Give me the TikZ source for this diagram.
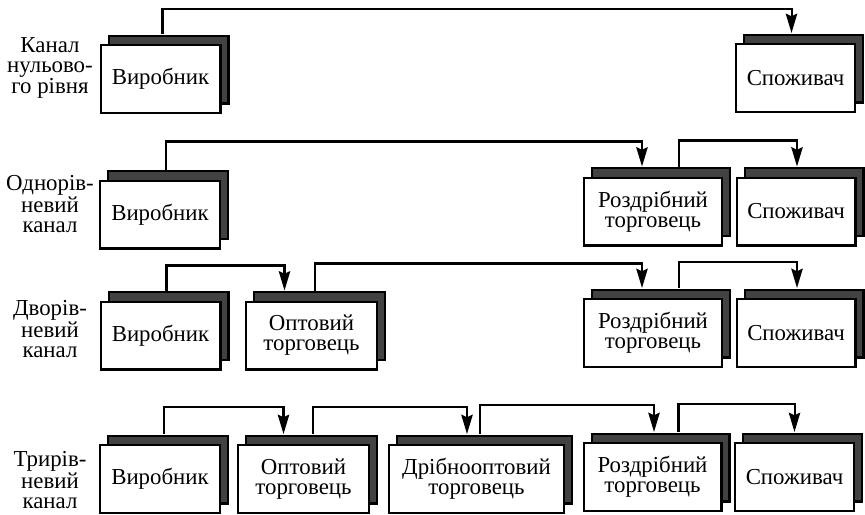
\documentclass[tikz,border=0pt]{standalone}
\usepackage{fontspec}
\setmainfont{Liberation Serif}
\usetikzlibrary{arrows.meta, shadows}
\definecolor{ShadowGray}{RGB}{66, 66, 66}

\begin{document}
\begin{tikzpicture}[x=0.02cm, y=-0.02cm,
    box/.style={draw=black, line width=1.15pt, fill=white, align=center, inner sep=0pt,
      font=\fontsize{13}{11.3}\selectfont, minimum height=1.36cm,
      copy shadow={shadow xshift=0.16cm, shadow yshift=0.19cm, fill=ShadowGray, draw=black, line width=1.15pt}},
    lbl/.style={align=center, font=\fontsize{13}{11.3}\selectfont},
    link/.style={line width=1.15pt, -{Stealth[length=11pt, width=6.5pt, inset=1.5pt]}}]
    \useasboundingbox (0,0) rectangle (865,514);

    % Labels
    \node[lbl] (l1) at (50,68) {Канал\\нульово-\\го рівня};
    \node[lbl] (l2) at (50,204) {Однорів-\\невий\\канал};
    \node[lbl] (l3) at (50,329) {Дворів-\\невий\\канал};
    \node[lbl] (l4) at (50,480) {Трирів-\\невий\\канал};

    % Zero level
    \node[box, minimum width=2.4cm] (p1) at (160.5,79) {Виробник};
    \node[box, minimum width=2.38cm] (c1) at (795.5,78) {Споживач};
    \draw[link] ([shift={(2,-10)}]p1.north) -- ++(0,-25) -| ([shift={(-4,-10)}]c1.north);

    % One level
    \node[box, minimum width=2.4cm] (p2) at (160,214.5) {Виробник};
    \node[box, minimum width=2.76cm] (r2) at (653,211.5) {Роздрібний\\торговець};
    \node[box, minimum width=2.38cm] (c2) at (796,211.5) {Споживач};
    \draw[link] ([shift={(6,-10)}]p2.north) -- ++(0,-28) -| ([shift={(-11,-10)}]r2.north);
    \draw[link] ([shift={(26,-10)}]r2.north) -- ++(0,-26) -| ([shift={(1,-10)}]c2.north);

    % Two levels
    \node[box, minimum width=2.4cm] (p3) at (160.5,335.5) {Виробник};
    \node[box, minimum width=2.62cm] (w3) at (311.5,335.5) {Оптовий\\торговець};
    \node[box, minimum width=2.76cm] (r3) at (653,333) {Роздрібний\\торговець};
    \node[box, minimum width=2.38cm] (c3) at (796,333) {Споживач};
    \draw[link] ([shift={(6,-10)}]p3.north) -- ++(0,-25) -| ([shift={(-27,-10)}]w3.north);
    \draw[link] ([shift={(3.5,-10)}]w3.north) -- ++(0,-27) -| ([shift={(-11,-10)}]r3.north);
    \draw[link] ([shift={(26,-10)}]r3.north) -- ++(0,-26) -| ([shift={(1,-10)}]c3.north);

    % Three levels
    \node[box, minimum width=2.4cm] (p4) at (160,479) {Виробник};
    \node[box, minimum width=2.62cm] (w4) at (303.5,479) {Оптовий\\торговець};
    \node[box, minimum width=3.5cm] (s4) at (476.5,479) {Дрібнооптовий\\торговець};
    \node[box, minimum width=2.76cm] (r4) at (652.5,477) {Роздрібний\\торговець};
    \node[box, minimum width=2.38cm] (c4) at (794.5,477) {Споживач};
    \draw[link] ([shift={(4,-10)}]p4.north) -- ++(0,-27) -| ([shift={(-20,-10)}]w4.north);
    \draw[link] ([shift={(9.5,-10)}]w4.north) -- ++(0,-27) -| ([shift={(-9.5,-10)}]s4.north);
    \draw[link] ([shift={(3.5,-10)}]s4.north) -- ++(0,-29) -| ([shift={(1.5,-10)}]r4.north);
    \draw[link] ([shift={(26,-10)}]r4.north) -- ++(0,-28) -| ([shift={(0,-10)}]c4.north);
  \end{tikzpicture}
\end{document}
